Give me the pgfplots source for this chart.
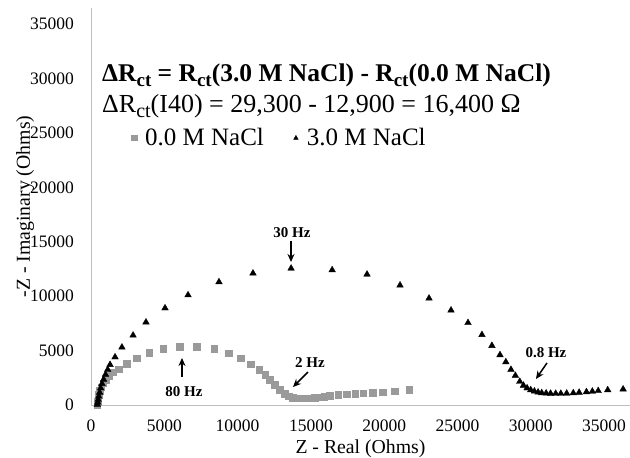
\documentclass[border=0pt]{standalone}
\usepackage{fontspec}
\setmainfont{Liberation Serif}
\usepackage{pgfplots}
\pgfplotsset{compat=1.18}
\usetikzlibrary{arrows.meta}
\definecolor{sqgray}{HTML}{9A9A9A}
\newcommand\ctb{\raisebox{-5bp}{\fontsize{19bp}{19bp}\selectfont ct}}
\newcommand\ctn{\raisebox{-5bp}{\fontsize{20bp}{20bp}\selectfont ct}}
\begin{document}
\begin{tikzpicture}
\path[use as bounding box] (0,0) rectangle (630bp,458bp);
\begin{axis}[
    anchor=south west, at={(91bp,53bp)},
    scale only axis, width=539bp, height=397bp,
    xmin=0, xmax=36770, ymin=0, ymax=36470,
    axis x line=bottom, axis y line=left,
    axis line style={-, draw=black!25, line width=0.8bp},
    major tick length=0,
    xtick={0,5000,...,35000}, ytick={0,5000,...,35000},
    scaled ticks=false,
    /pgf/number format/set thousands separator={},
    /pgf/number format/assume math mode=true,
    ticklabel style={font=\fontsize{17.5bp}{20bp}\selectfont, inner sep=0pt},
    xticklabel style={anchor=base, yshift=-26.7bp},
    yticklabel style={anchor=east, xshift=-17bp},
    xlabel={Z - Real (Ohms)},
    ylabel={-Z - Imaginary (Ohms)},
    label style={font=\fontsize{19.75bp}{22bp}\selectfont, inner sep=0pt},
    xlabel style={at={(axis description cs:0.5,-0.121)}, anchor=base},
    ylabel style={at={(axis description cs:-0.1135,0.5)}, anchor=base},
    legend style={at={(axis cs:2660,24527)}, anchor=west, draw=none, fill=none,
        inner sep=0pt, legend columns=2,
        font=\fontsize{25bp}{28bp}\selectfont,
        /tikz/every even column/.append style={column sep=26bp}},
    legend image code/.code={
        \path[draw=none, fill=none] (0bp,0bp) rectangle (13bp,0bp);
        \draw[#1, mark size=2.6bp] plot coordinates {(4bp,0bp)};},
]

% 0.0 M NaCl -- grey squares
\addplot[only marks, mark=square*, mark size=3.3bp, color=sqgray] coordinates {
    (430,50) (450,300) (480,600) (530,950) (600,1300) (700,1650)
    (830,2000) (1000,2350) (1200,2700) (1500,3000) (1900,3300)
    (2430,3800) (3110,4300) (3960,4800) (4930,5150) (6070,5350)
    (7210,5350) (8410,5150) (9410,4750) (10230,4290) (10910,3740)
    (11480,3220) (11870,2760) (12210,2300) (12550,1840) (12890,1400)
    (13230,1030) (13500,800) (13750,680) (14000,630) (14250,610)
    (14500,610) (14750,620) (15000,640) (15250,670) (15550,720)
    (15900,780) (16300,870) (16870,940) (17440,990) (18010,1030)
    (18580,1080) (19200,1130) (19900,1190) (20700,1260) (21700,1380)
};
\addlegendentry{0.0 M NaCl}

% 3.0 M NaCl -- black triangles
\addplot[only marks, mark=triangle*, mark size=3.8bp, color=black] coordinates {
    (430,50) (460,250) (490,500) (530,800) (590,1150) (660,1550)
    (750,1950) (860,2350) (990,2800) (1140,3250) (1300,3700)
    (1640,4400) (2110,5300) (2870,6400) (3750,7600) (5050,8900)
    (6620,10100) (8730,11300) (11050,12100) (13650,12550) (16450,12400)
    (18830,12000) (21080,11000) (23060,9800) (24560,8700) (25720,7550)
    (26670,6450) (27350,5450) (27900,4600) (28300,3950) (28650,3250)
    (28950,2700) (29250,2150) (29500,1800) (29750,1550) (30000,1380)
    (30250,1260) (30500,1170) (30750,1110) (31050,1080) (31350,1060)
    (31700,1050) (32050,1050) (32450,1070) (32900,1100) (33300,1150)
    (33800,1200) (34200,1250) (34600,1300) (35250,1380) (36300,1450)
};
\addlegendentry{3.0 M NaCl}

% equations
\node[anchor=base west, inner sep=0pt, font=\fontsize{25.5bp}{28bp}\selectfont\bfseries]
    at (axis cs:750,29763) {ΔR\ctb{} = R\ctb(3.0 M NaCl) - R\ctb(0.0 M NaCl)};
\node[anchor=base west, inner sep=0pt, font=\fontsize{26bp}{28bp}\selectfont]
    at (axis cs:750,26915) {ΔR\ctn(I40) = 29,300 - 12,900 = 16,400 {\fontsize{27bp}{27bp}\selectfont Ω}};

% frequency annotations
\tikzset{hz/.style={font=\fontsize{15bp}{17bp}\selectfont\bfseries, inner sep=0pt},
         ar/.style={-{Stealth[length=8bp,width=7bp]}, line width=1.5bp}}
\node[hz] at (axis cs:13711,15800) {30 Hz};
\draw[ar] (axis cs:13643,15065) -- (axis cs:13643,13136);
\node[hz] at (axis cs:6344,1194) {80 Hz};
\draw[ar] (axis cs:6207,2572) -- (axis cs:6207,4318);
\node[hz] at (axis cs:14939,3858) {2 Hz};
\draw[ar] (axis cs:14802,3031) -- (axis cs:13779,1653);
\node[hz] at (axis cs:31037,4777) {0.8 Hz};
\draw[ar] (axis cs:31105,3858) -- (axis cs:30355,2388);

\end{axis}
\end{tikzpicture}
\end{document}
